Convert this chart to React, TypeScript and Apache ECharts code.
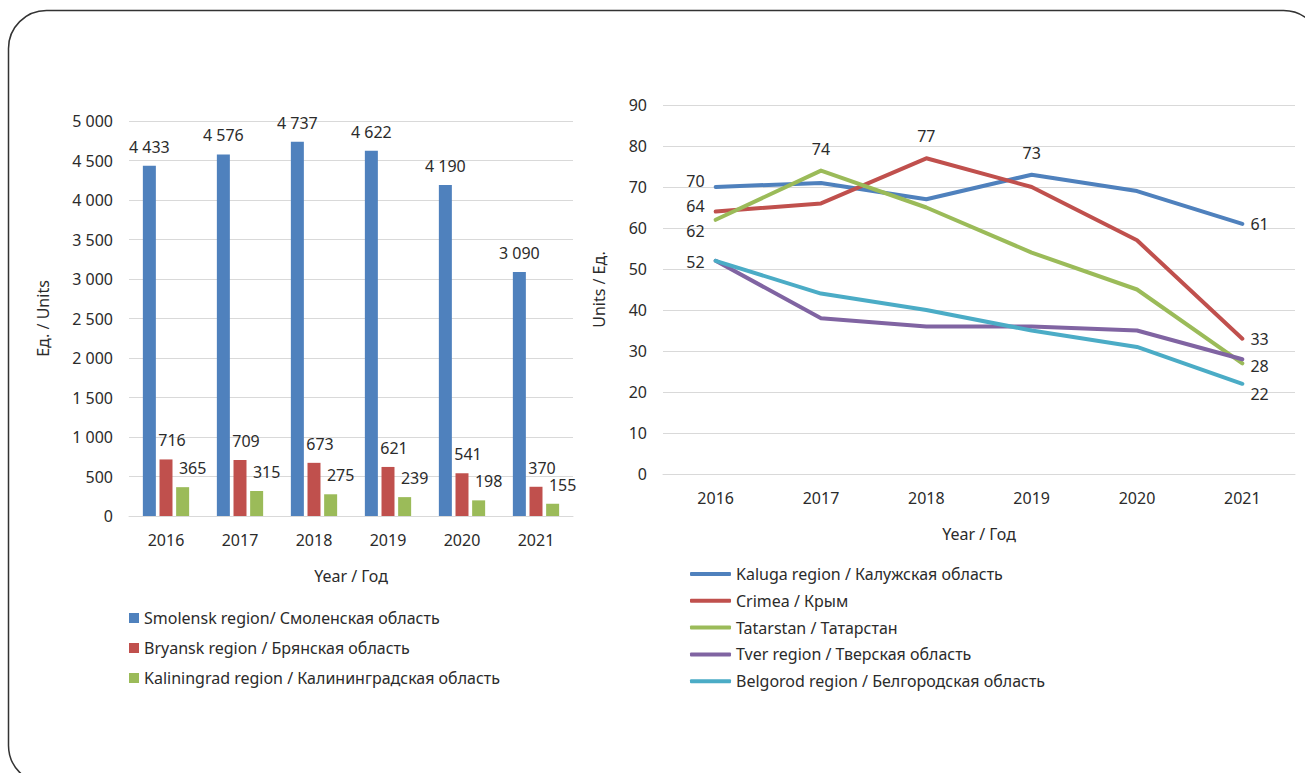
import React, { useEffect, useRef } from "react";
import * as echarts from "echarts";

const years = ["2016", "2017", "2018", "2019", "2020", "2021"];

const barSeriesNames = [
  "Smolensk region/ Смоленская область",
  "Bryansk region / Брянская область",
  "Kaliningrad region / Калининградская область",
];
const smolensk = [4433, 4576, 4737, 4622, 4190, 3090];
const bryansk = [716, 709, 673, 621, 541, 370];
const kaliningrad = [365, 315, 275, 239, 198, 155];
const barTicks = [0, 500, 1000, 1500, 2000, 2500, 3000, 3500, 4000, 4500, 5000];

const lineSeriesNames = [
  "Kaluga region / Калужская область",
  "Crimea / Крым",
  "Tatarstan / Татарстан",
  "Tver region / Тверская область",
  "Belgorod region / Белгородская область",
];
const kaluga = [70, 71, 67, 73, 69, 61];
const crimea = [64, 66, 77, 70, 57, 33];
const tatarstan = [62, 74, 65, 54, 45, 27];
const tver = [52, 38, 36, 36, 35, 28];
const belgorod = [52, 44, 40, 35, 31, 22];
const lineTicks = [0, 10, 20, 30, 40, 50, 60, 70, 80, 90];

const FONT = "Noto Sans";
const FS = 16;
const TXT = "#2b2b2b";

const fmt = (v: number) => String(v).replace(/\B(?=(\d{3})+(?!\d))/g, " ");

// label placement per series: index -> [position, offsetX, offsetY]
type LP = { [k: number]: [string, number, number] };
const lineLabels: LP[] = [
  { 0: ["left", -3, -6], 3: ["top", 0, 0], 5: ["right", 0, 0] },
  { 0: ["left", -3, -6], 2: ["top", 0, 0], 5: ["right", 0, 0] },
  { 0: ["left", -3, 11], 1: ["top", 0, 0] },
  { 5: ["right", 0, 7] },
  { 0: ["left", -3, 1], 5: ["right", 0, 10] },
];

export default function App() {
  const ref = useRef<HTMLDivElement>(null);
  useEffect(() => {
    if (!ref.current) return;
    const chart = echarts.init(ref.current, undefined, { renderer: "svg" });
    const barColors = ["#4f81bd", "#c0504d", "#9bbb59"];
    const lineColors = ["#4f81bd", "#c0504d", "#9bbb59", "#8064a2", "#4bacc6"];
    const barData = [smolensk, bryansk, kaliningrad];
    const lineData = [kaluga, crimea, tatarstan, tver, belgorod];
    const barLabelOffsets = [[0, 0], [6, 0], [10, 0]];

    const axisText = { fontFamily: FONT, fontSize: FS, color: TXT };

    const option: any = {
      animation: false,
      textStyle: { fontFamily: FONT },
      graphic: [
        {
          type: "rect",
          shape: { x: 8.5, y: 10.5, width: 1313, height: 773, r: 38 },
          style: { fill: "none", stroke: "#333", lineWidth: 1.5 },
          silent: true,
        },
      ],
      grid: [
        { left: 129, top: 121, width: 444, height: 395 },
        { left: 663, top: 105, width: 632, height: 369 },
      ],
      legend: [
        {
          data: barSeriesNames,
          orient: "vertical",
          left: 124,
          top: 603,
          itemWidth: 10,
          itemHeight: 10,
          itemGap: 10,
          icon: "rect",
          textStyle: { ...axisText, lineHeight: 20 },
        },
        {
          data: lineSeriesNames,
          orient: "vertical",
          left: 685,
          top: 559,
          itemWidth: 41,
          itemHeight: 4,
          itemGap: 6.8,
          icon: "roundRect",
          textStyle: { ...axisText, lineHeight: 20 },
        },
      ],
      xAxis: [0, 1].map((g) => ({
        type: "category",
        gridIndex: g,
        data: years,
        axisLine: { show: true, lineStyle: { color: "#d9d9d9" } },
        axisTick: { show: false },
        axisLabel: { ...axisText, margin: 16 },
        name: "Year / Год",
        nameLocation: "middle",
        nameGap: 52,
        nameTextStyle: axisText,
      })),
      yAxis: [
        {
          type: "value",
          gridIndex: 0,
          min: barTicks[0],
          max: barTicks[barTicks.length - 1],
          interval: barTicks[1] - barTicks[0],
          axisLine: { show: false },
          axisTick: { show: false },
          splitLine: { lineStyle: { color: "#d9d9d9", width: 1 } },
          axisLabel: { ...axisText, margin: 16, formatter: (v: number) => fmt(v) },
          name: "Ед. / Units",
          nameLocation: "middle",
          nameGap: 78,
          nameTextStyle: axisText,
        },
        {
          type: "value",
          gridIndex: 1,
          min: lineTicks[0],
          max: lineTicks[lineTicks.length - 1],
          interval: lineTicks[1] - lineTicks[0],
          axisLine: { show: false },
          axisTick: { show: false },
          splitLine: { lineStyle: { color: "#d9d9d9", width: 1 } },
          axisLabel: { ...axisText, margin: 16 },
          name: "Units / Ед.",
          nameLocation: "middle",
          nameGap: 56,
          nameTextStyle: axisText,
        },
      ],
      series: [
        ...barData.map((d, i) => ({
          type: "bar",
          name: barSeriesNames[i],
          xAxisIndex: 0,
          yAxisIndex: 0,
          data: d,
          barWidth: 13,
          barGap: "28%",
          itemStyle: { color: barColors[i] },
          label: {
            show: true,
            position: "top",
            distance: 11,
            offset: barLabelOffsets[i],
            ...axisText,
            formatter: (p: any) => fmt(p.value),
          },
        })),
        ...lineData.map((d, i) => ({
          type: "line",
          name: lineSeriesNames[i],
          xAxisIndex: 1,
          yAxisIndex: 1,
          symbol: "circle",
          symbolSize: 0.1,
          showSymbol: true,
          lineStyle: { color: lineColors[i], width: 4, cap: "round", join: "round" },
          itemStyle: { color: lineColors[i] },
          data: d.map((v, j) => {
            const lp = lineLabels[i][j];
            return lp
              ? {
                  value: v,
                  label: {
                    show: true,
                    position: lp[0],
                    offset: [lp[1], lp[2]],
                    distance: lp[0] === "top" ? 14 : 8,
                    ...axisText,
                  },
                }
              : { value: v };
          }),
        })),
      ],
    };
    chart.setOption(option);
    return () => chart.dispose();
  }, []);
  return (
    <div
      ref={ref}
      style={{ position: "fixed", left: 0, top: 0, width: 1305, height: 773, background: "#fff" }}
    />
  );
}
